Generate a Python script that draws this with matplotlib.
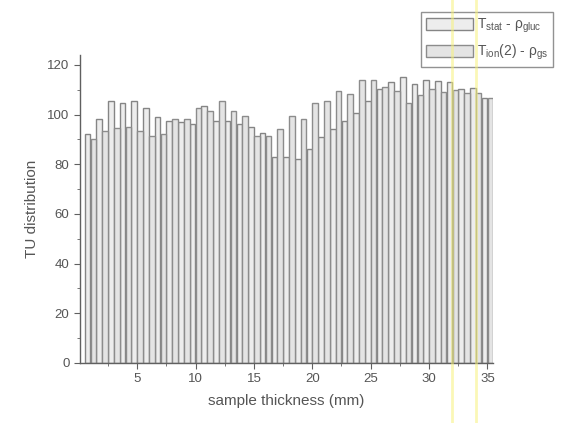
import numpy as np
import matplotlib.pyplot as plt
from matplotlib.lines import Line2D
from matplotlib.ticker import MultipleLocator

plt.rcParams['font.family'] = ['Liberation Sans', 'DejaVu Sans']
plt.rcParams['mathtext.default'] = 'regular'

thickness = np.arange(1, 36)
tu_stat = [92.2, 98.3, 105.6, 104.5, 105.5, 102.6, 99.2, 97.5, 97.2, 96.3,
           103.5, 97.5, 97.5, 96.3, 95.2, 92.5, 83.1, 83.1, 82.0, 86.2,
           90.9, 94.2, 97.5, 100.5, 105.5, 110.2, 113.0, 115.0, 112.4, 114.0,
           113.4, 113.0, 110.3, 110.8, 106.6]
tu_ion = [90.2, 93.4, 94.8, 95.2, 93.4, 91.2, 92.1, 98.3, 98.3, 102.6,
          101.5, 105.6, 101.5, 99.5, 91.4, 91.4, 94.2, 99.5, 98.3, 104.5,
          105.5, 109.3, 108.2, 114.0, 114.0, 111.3, 109.3, 104.5, 107.7, 110.2,
          109.0, 109.9, 108.7, 108.7, 106.6]
labels = [r'T$_{stat}$ - $\rho_{gluc}$', r'T$_{ion}$(2) - $\rho_{gs}$']

grey = '#606060'
fig = plt.figure(figsize=(5.67, 4.23), dpi=100)
ax = fig.add_axes([0.141, 0.142, 0.729, 0.728])

w = 0.48
ax.bar(thickness - 0.25, tu_stat, width=w, facecolor='#ededed',
       edgecolor='#858585', linewidth=1.0, label=labels[0])
ax.bar(thickness + 0.25, tu_ion, width=w, facecolor='#e4e4e4',
       edgecolor='#8c8c8c', linewidth=1.0, label=labels[1])

ax.set_xlim(0.1, 35.5)
ax.set_ylim(0, 124)
ax.set_xticks([5, 10, 15, 20, 25, 30, 35])
ax.set_yticks([0, 20, 40, 60, 80, 100, 120])
ax.xaxis.set_minor_locator(MultipleLocator(2.5))
ax.yaxis.set_minor_locator(MultipleLocator(10))
for s in ['top', 'right']:
    ax.spines[s].set_visible(False)
for s in ['left', 'bottom']:
    ax.spines[s].set_color(grey)
    ax.spines[s].set_linewidth(1.0)
ax.tick_params(which='major', direction='out', length=4, color=grey,
               labelcolor='#555555', labelsize=9.5)
ax.tick_params(which='minor', direction='out', length=2, color=grey)
ax.set_xlabel('sample thickness (mm)', fontsize=11, color='#555555', labelpad=6)
ax.set_ylabel('TU distribution', fontsize=11, color='#555555', labelpad=6)

leg = fig.legend(loc='upper left', bbox_to_anchor=(421 / 567, 1 - 12 / 423),
                 fontsize=10, frameon=True, fancybox=False, handlelength=3.4,
                 handleheight=0.9, handletextpad=0.3, borderpad=0.35,
                 borderaxespad=0, labelspacing=0.55, labelcolor='#555555')
leg.get_frame().set_edgecolor('#777777')
leg.get_frame().set_linewidth(1.0)

# faint yellow streaks running down the page
for xf in (452 / 567, 476 / 567):
    fig.add_artist(Line2D([xf, xf], [0, 1], transform=fig.transFigure,
                          color='#f7f27c', linewidth=2.0, alpha=0.55, zorder=10))

fig.savefig('out.png', dpi=100)
